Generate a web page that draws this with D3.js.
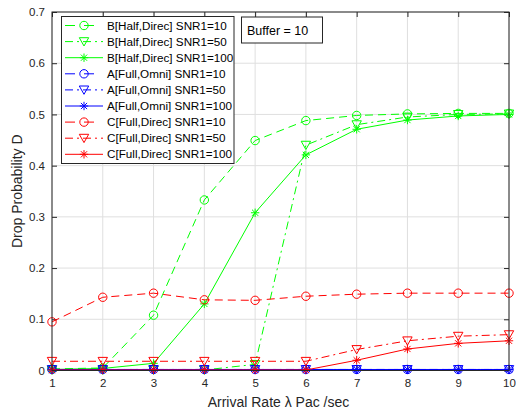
<!DOCTYPE html>
<html>
<head>
<meta charset="utf-8">
<script src="https://cdn.jsdelivr.net/npm/d3@7/dist/d3.min.js"></script>
<style>
  html, body { margin: 0; padding: 0; background: #fff; }
  svg { display: block; font-family: "Liberation Sans", Arial, sans-serif; }
</style>
</head>
<body>
<svg id="chart" width="516" height="414"></svg>
<script>
// ---- data ----
const xValues = [1, 2, 3, 4, 5, 6, 7, 8, 9, 10];
const xTicks = [1, 2, 3, 4, 5, 6, 7, 8, 9, 10];
const yTicks = [0, 0.1, 0.2, 0.3, 0.4, 0.5, 0.6, 0.7];
const yTickLabels = ["0", "0.1", "0.2", "0.3", "0.4", "0.5", "0.6", "0.7"];

const seriesNames = [
  "B[Half,Direc] SNR1=10", "B[Half,Direc] SNR1=50", "B[Half,Direc] SNR1=100",
  "A[Full,Omni] SNR1=10", "A[Full,Omni] SNR1=50", "A[Full,Omni] SNR1=100",
  "C[Full,Direc] SNR1=10", "C[Full,Direc] SNR1=50", "C[Full,Direc] SNR1=100"
];
const B10  = [0.003, 0.005, 0.108, 0.333, 0.449, 0.488, 0.498, 0.501, 0.502, 0.502];
const B50  = [0.001, 0.001, 0.001, 0.001, 0.012, 0.440, 0.480, 0.495, 0.500, 0.501];
const B100 = [0.002, 0.004, 0.014, 0.130, 0.308, 0.421, 0.471, 0.489, 0.497, 0.500];
const A10  = [0.002, 0.002, 0.002, 0.002, 0.002, 0.002, 0.002, 0.002, 0.002, 0.002];
const A50  = [0.002, 0.002, 0.002, 0.002, 0.002, 0.002, 0.002, 0.002, 0.002, 0.002];
const A100 = [0.002, 0.002, 0.002, 0.002, 0.002, 0.002, 0.002, 0.002, 0.002, 0.002];
const C10  = [0.095, 0.143, 0.151, 0.138, 0.137, 0.145, 0.149, 0.151, 0.151, 0.151];
const C50  = [0.018, 0.018, 0.018, 0.018, 0.018, 0.018, 0.041, 0.058, 0.067, 0.070];
const C100 = [0.001, 0.001, 0.001, 0.001, 0.001, 0.001, 0.020, 0.042, 0.053, 0.058];
const seriesValues = [B10, B50, B100, A10, A50, A100, C10, C50, C100];
const seriesColors = ["#00ff00", "#00ff00", "#00ff00", "#0000ff", "#0000ff", "#0000ff", "#ff0000", "#ff0000", "#ff0000"];
const seriesDash = ["dash", "dashdot", "solid", "dash", "dashdot", "solid", "dash", "dashdot", "solid"];
const seriesMarker = ["circle", "triangle", "star", "circle", "triangle", "star", "circle", "triangle", "star"];

// ---- layout ----
const svg = d3.select("#chart");
const L = 52, R = 509, T = 12, B = 370.5;
const x = d3.scaleLinear().domain([1, 10]).range([L, R]);
const y = d3.scaleLinear().domain([0, 0.7]).range([B, T]);
const dashMap = { dash: "8,5", dashdot: "8,4,2,4", solid: null };
const axisColor = "#262626";

// grid
const grid = svg.append("g");
grid.selectAll("line.gx").data(xTicks).enter().append("line")
  .attr("x1", d => x(d)).attr("x2", d => x(d)).attr("y1", T).attr("y2", B)
  .attr("stroke", "#dfdfdf").attr("stroke-width", 1);
grid.selectAll("line.gy").data(yTicks).enter().append("line")
  .attr("x1", L).attr("x2", R).attr("y1", d => y(d)).attr("y2", d => y(d))
  .attr("stroke", "#dfdfdf").attr("stroke-width", 1);

// axes
const xAxis = d3.axisBottom(x).tickValues(xTicks).tickSize(-5).tickPadding(8).tickFormat(d3.format("d"));
const gx = svg.append("g").attr("transform", `translate(0,${B})`).call(xAxis);
const yAxis = d3.axisLeft(y).tickValues(yTicks).tickSize(-5).tickPadding(7).tickFormat((d, i) => yTickLabels[i]);
const gy = svg.append("g").attr("transform", `translate(${L},0)`).call(yAxis);
const xAxisTop = d3.axisTop(x).tickValues(xTicks).tickSize(-5).tickFormat("");
const gxt = svg.append("g").attr("transform", `translate(0,${T})`).call(xAxisTop);
const yAxisRight = d3.axisRight(y).tickValues(yTicks).tickSize(-5).tickFormat("");
const gyr = svg.append("g").attr("transform", `translate(${R},0)`).call(yAxisRight);
[gx, gy, gxt, gyr].forEach(g => {
  g.select(".domain").remove();
  g.selectAll("line").attr("stroke", axisColor);
  g.selectAll("text").attr("fill", axisColor).style("font-size", "11.5px")
    .style("font-family", "'Liberation Sans', Arial, sans-serif");
});

// plot lines and markers
function drawMarker(g, type, cx, cy, color) {
  if (type === "circle") {
    g.append("circle").attr("cx", cx).attr("cy", cy).attr("r", 4.2)
      .attr("fill", "none").attr("stroke", color).attr("stroke-width", 1);
  } else if (type === "triangle") {
    g.append("path").attr("d", `M${cx - 4.7},${cy - 3.9}L${cx + 4.7},${cy - 3.9}L${cx},${cy + 4.4}Z`)
      .attr("fill", "none").attr("stroke", color).attr("stroke-width", 1);
  } else {
    const s = 4.2, d = 3.1;
    g.append("path").attr("d",
      `M${cx - s},${cy}L${cx + s},${cy}M${cx},${cy - s}L${cx},${cy + s}` +
      `M${cx - d},${cy - d}L${cx + d},${cy + d}M${cx - d},${cy + d}L${cx + d},${cy - d}`)
      .attr("fill", "none").attr("stroke", color).attr("stroke-width", 1);
  }
}

const plot = svg.append("g");
const lineGen = d3.line().x(d => x(d[0])).y(d => y(d[1]));
seriesValues.forEach((vals, i) => {
  const g = plot.append("g");
  const pts = xValues.map((xv, j) => [xv, vals[j]]);
  g.append("path").attr("d", lineGen(pts))
    .attr("fill", "none").attr("stroke", seriesColors[i]).attr("stroke-width", 1)
    .attr("stroke-dasharray", dashMap[seriesDash[i]]);
  pts.forEach(p => drawMarker(g, seriesMarker[i], x(p[0]), y(p[1]), seriesColors[i]));
});

// box
svg.append("rect").attr("x", L).attr("y", T).attr("width", R - L).attr("height", B - T)
  .attr("fill", "none").attr("stroke", axisColor).attr("stroke-width", 1);

// axis labels
svg.append("text").attr("x", (L + R) / 2 - 2).attr("y", 407).attr("text-anchor", "middle")
  .attr("fill", axisColor).style("font-size", "14px").text("Arrival Rate λ Pac /sec");
svg.append("text").attr("transform", `translate(22,${(T + B) / 2}) rotate(-90)`)
  .attr("text-anchor", "middle").attr("fill", axisColor).style("font-size", "14px")
  .text("Drop Probability D");

// legend
const lg = svg.append("g");
lg.append("rect").attr("x", 61.5).attr("y", 16.5).attr("width", 172.5).attr("height", 147)
  .attr("fill", "#fff").attr("stroke", axisColor).attr("stroke-width", 1);
seriesNames.forEach((name, i) => {
  const ly = 25.5 + i * 16.1;
  lg.append("line").attr("x1", 65).attr("x2", 103).attr("y1", ly).attr("y2", ly)
    .attr("stroke", seriesColors[i]).attr("stroke-width", 1)
    .attr("stroke-dasharray", seriesDash[i] === "dash" ? "10,9" : dashMap[seriesDash[i]]);
  drawMarker(lg, seriesMarker[i], 84, ly, seriesColors[i]);
  lg.append("text").attr("x", 107).attr("y", ly).attr("dy", "0.35em")
    .attr("fill", "#000").style("font-size", "11.7px").text(name);
});

// buffer annotation
svg.append("rect").attr("x", 241.5).attr("y", 17).attr("width", 81).attr("height", 26)
  .attr("fill", "#fff").attr("stroke", axisColor).attr("stroke-width", 1);
svg.append("text").attr("x", 247).attr("y", 30.5).attr("dy", "0.35em")
  .attr("fill", "#000").style("font-size", "12.5px").text("Buffer = 10");
</script>
</body>
</html>
